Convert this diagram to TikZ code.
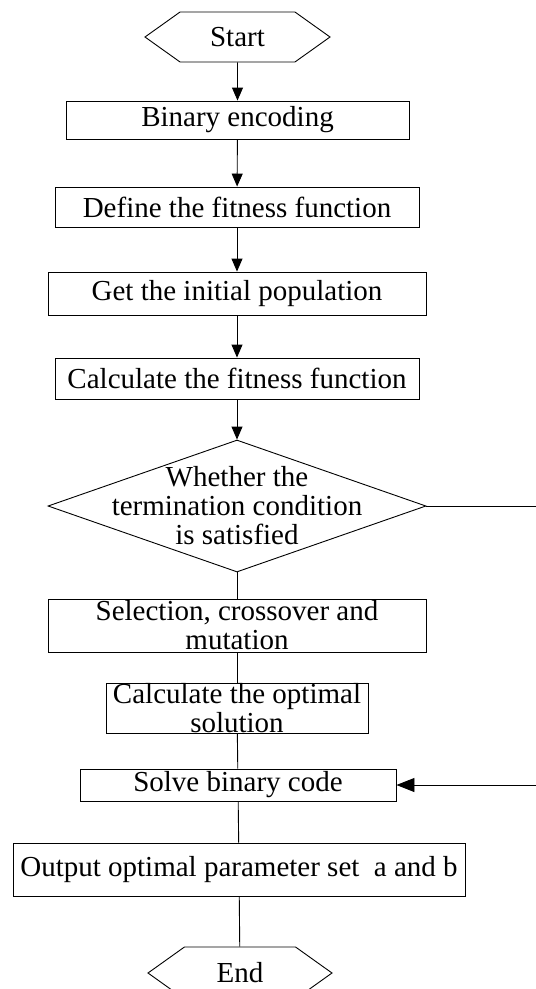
\documentclass[tikz,border=0pt]{standalone}
\usepackage{fontspec}
\setmainfont{Liberation Serif}
\usetikzlibrary{arrows.meta,shapes.geometric,shapes.symbols}

\begin{document}
\begin{tikzpicture}[x=1pt,y=-1pt,>={Triangle[length=13pt,width=11pt]},line width=0.9pt,
    font=\fontsize{29}{29}\selectfont,
    procbox/.style={draw,rectangle,inner sep=0pt,align=center},
    termbox/.style={draw,signal,signal to=east and west,signal pointer angle=71,inner sep=0pt},
    decision/.style={draw,diamond,inner sep=0pt,minimum width=378pt,minimum height=132pt}]

    \useasboundingbox (0,0) rectangle (536,989);
    \clip (0,0) rectangle (536,989);

    \node[termbox,minimum width=185pt,minimum height=50pt] (st)  at (237.5,37)  {Start};
    \node[procbox,minimum width=343pt,minimum height=38pt] (bin) at (237.5,120) {Binary encoding};
    \node[procbox,minimum width=364pt,minimum height=40pt] (def) at (237,207)   {Define the fitness function};
    \node[procbox,minimum width=378pt,minimum height=43pt] (pop) at (237,293.5) {Get the initial population};
    \node[procbox,minimum width=364pt,minimum height=41pt] (fit) at (237,378.5) {Calculate the fitness function};

    \node[decision] (dec) at (237,506) {};
    \node[align=center,inner sep=0pt] (dectxt) at (dec) {Whether the\\termination condition\\is satisfied};

    \node[procbox,minimum width=378pt,minimum height=53pt] (sel) at (237,625.5) {Selection, crossover and\\mutation};
    \node[procbox,minimum width=262pt,minimum height=50pt] (opt) at (237,708)   {Calculate the optimal\\solution};
    \node[procbox,minimum width=316pt,minimum height=32pt] (sol) at (238,785)   {Solve binary code};
    \node[procbox,minimum width=452pt,minimum height=53pt] (out) at (239,869.5) {Output optimal parameter set\ \ a and b};
    \node[termbox,minimum width=184pt,minimum height=52pt] (en)  at (240,973)   {End};

    \coordinate (rt) at (548,506);

    \draw[->] (st)  -- (bin);
    \draw[->] (bin) -- (def);
    \draw[->] (def) -- (pop);
    \draw[->] (pop) -- (fit);
    \draw[->] (fit) -- (dec);
    \draw (dec) -- (sel);
    \draw (sel) -- (opt);
    \draw (opt) -- (sol);
    \draw (sol) -- (out);
    \draw (out) -- (en);
    % no: back to decoding, from off the page
    \draw[-{Triangle[length=18pt,width=14pt]}] (dec.east) -- (rt) |- (sol.east);

\end{tikzpicture}
\end{document}
